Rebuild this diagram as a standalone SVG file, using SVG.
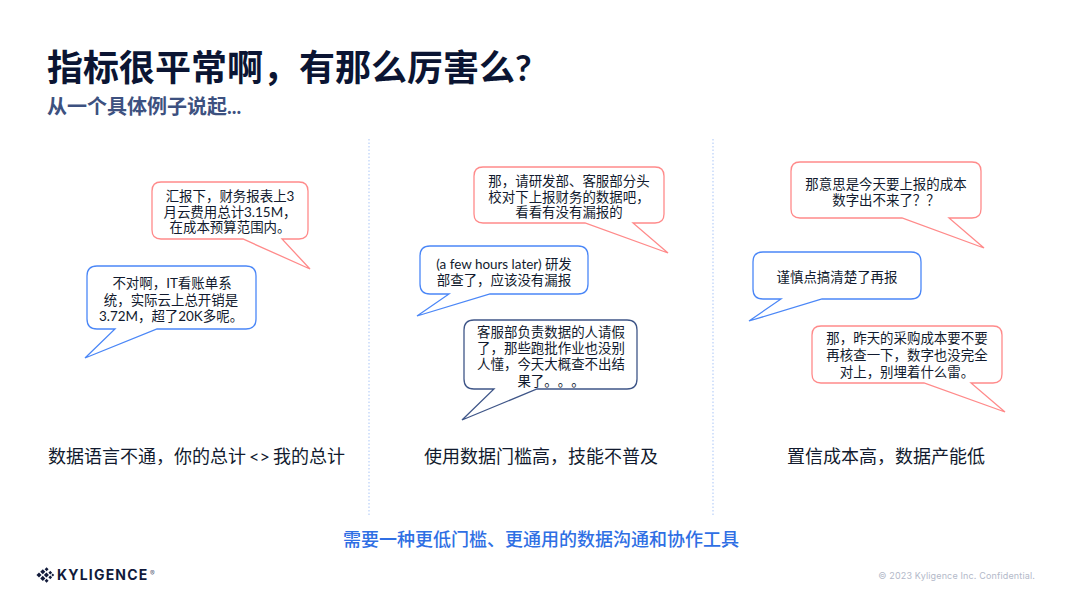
<svg xmlns="http://www.w3.org/2000/svg" width="1080" height="608" viewBox="0 0 1080 608">
<style>
text{font-family:"Lato","Noto Sans CJK SC","Noto Sans",sans-serif;fill:#0b1533;text-spacing-trim:space-all}
.t{font-size:13.45px;text-anchor:middle;fill:#111a2e}
.cap{font-size:18px;text-anchor:middle;fill:#111a2e}
.b{fill:#fff;stroke-width:1.3;stroke-linejoin:miter}
.red{stroke:#ff8a8a}.blue{stroke:#4b87f7}.navy{stroke:#3f5688}
.sep{stroke:#c6d9fa;stroke-width:1.500;stroke-dasharray:1.5 2;fill:none}
.lg{fill:#111a3a}
</style>
<rect width="1080" height="608" fill="#fff"/>
<text id="title" x="47" y="81" font-size="36" font-weight="700" fill="#0b1533">指标很平常啊，有那么厉害么?</text>
<text id="subtitle" x="47" y="114" font-size="20" font-weight="700" style="fill:#3d5180">从一个具体例子说起...</text>
<g id="separators"><path class="sep" d="M369 139V516"/><path class="sep" d="M713 139V516"/></g>

<g id="bubble-1"><path class="b red" d="M161 182H299Q308 182 308 191V230Q308 239 299 239H282L310 269L243 239H161Q152 239 152 230V191Q152 182 161 182Z"/>
<text class="t" x="230" y="201">汇报下，财务报表上3</text><text class="t" x="230" y="216.500">月云费用总计3.15M，</text><text class="t" x="230" y="232">在成本预算范围内。</text></g>
<g id="bubble-2"><path class="b blue" d="M97 266H246Q256 266 256 276V319Q256 329 246 329H157L85 358L115 329H97Q87 329 87 319V276Q87 266 97 266Z"/>
<text class="t" x="172" y="288">不对啊，IT看账单系</text><text class="t" x="171" y="305">统，实际云上总开销是</text><text class="t" x="171" y="320.500">3.72M，超了20K多呢。</text></g>
<text id="cap-1" class="cap" x="196.500" y="463" word-spacing="-1.5">数据语言不通，你的总计 &lt;&gt; 我的总计</text>

<g id="bubble-3"><path class="b red" d="M483 167H655Q664 167 664 176V214Q664 223 655 223H633L668 253L585 223H483Q474 223 474 214V176Q474 167 483 167Z"/>
<text class="t" x="569" y="186">那，请研发部、客服部分头</text><text class="t" x="569" y="202">校对下上报财务的数据吧，</text><text class="t" x="569" y="217">看看有没有漏报的</text></g>
<g id="bubble-4"><path class="b blue" d="M430 246H578Q588 246 588 256V284Q588 294 578 294H490L417 316L449 294H430Q420 294 420 284V256Q420 246 430 246Z"/>
<text class="t" x="504" y="269">(a few hours later) 研发</text><text class="t" x="504" y="285">部查了，应该没有漏报</text></g>
<g id="bubble-5"><path class="b navy" d="M474 320H627Q637 320 637 330V379Q637 389 627 389H537L462 420L494 389H474Q464 389 464 379V330Q464 320 474 320Z"/>
<text class="t" x="551" y="337">客服部负责数据的人请假</text><text class="t" x="551" y="353">了，那些跑批作业也没别</text><text class="t" x="551" y="369">人懂，今天大概查不出结</text><text class="t" x="551" y="386">果了。。。</text></g>
<text id="cap-2" class="cap" x="541" y="463">使用数据门槛高，技能不普及</text>

<g id="bubble-6"><path class="b red" d="M800 162H972Q981 162 981 171V209Q981 218 972 218H949L984 248L902 218H800Q791 218 791 209V171Q791 162 800 162Z"/>
<text class="t" x="886" y="189">那意思是今天要上报的成本</text><text class="t" x="886" y="205">数字出不来了？？</text></g>
<g id="bubble-7"><path class="b blue" d="M763 252H911Q921 252 921 262V289Q921 299 911 299H822L749 321L781 299H763Q753 299 753 289V262Q753 252 763 252Z"/>
<text class="t" x="837" y="282">谨慎点搞清楚了再报</text></g>
<g id="bubble-8"><path class="b red" d="M821 326H993Q1002 326 1002 335V374Q1002 383 993 383H971L1005 412L924 383H821Q812 383 812 374V335Q812 326 821 326Z"/>
<text class="t" x="907" y="343">那，昨天的采购成本要不要</text><text class="t" x="907" y="360">再核查一下，数字也没完全</text><text class="t" x="907" y="376.500">对上，别埋着什么雷。</text></g>
<text id="cap-3" class="cap" x="886" y="463">置信成本高，数据产能低</text>

<text id="conclusion" x="541" y="546" font-size="18" font-weight="500" text-anchor="middle" style="fill:#2f6fe4">需要一种更低门槛、更通用的数据沟通和协作工具</text>

<g id="logo">
<g class="lg"><rect x="41" y="570" width="3.600" height="3.600" transform="rotate(45 42.800 571.800)"/><rect x="37.200" y="573.200" width="3.600" height="3.600" transform="rotate(45 39 575)"/><rect x="41" y="576.600" width="3.600" height="3.600" transform="rotate(45 42.800 578.400)"/><rect x="44.600" y="573.200" width="3.600" height="3.600" transform="rotate(45 46.400 575)"/><rect x="45.200" y="567.800" width="2.800" height="2.800" transform="rotate(45 46.600 569.200)"/><rect x="45.200" y="579.400" width="2.800" height="2.800" transform="rotate(45 46.600 580.800)"/><rect x="49" y="571.400" width="2.600" height="2.600" transform="rotate(45 50.300 572.700)"/><rect x="49" y="576" width="2.600" height="2.600" transform="rotate(45 50.300 577.300)"/><rect x="51.800" y="574" width="2" height="2" transform="rotate(45 52.800 575)"/></g>
<text x="57" y="580" font-size="14" font-weight="700" letter-spacing="1.2" style="fill:#111a3a;font-family:Inter,sans-serif">KYLIGENCE</text>
<text x="150" y="576" font-size="7" style="fill:#5a6480;font-family:Inter,sans-serif">®</text>
</g>
<text id="copyright" x="1035" y="579" font-size="9" text-anchor="end" letter-spacing=".15" style="fill:#b3b9c9;font-family:Inter,sans-serif">© 2023 Kyligence Inc. Confidential.</text>
</svg>
